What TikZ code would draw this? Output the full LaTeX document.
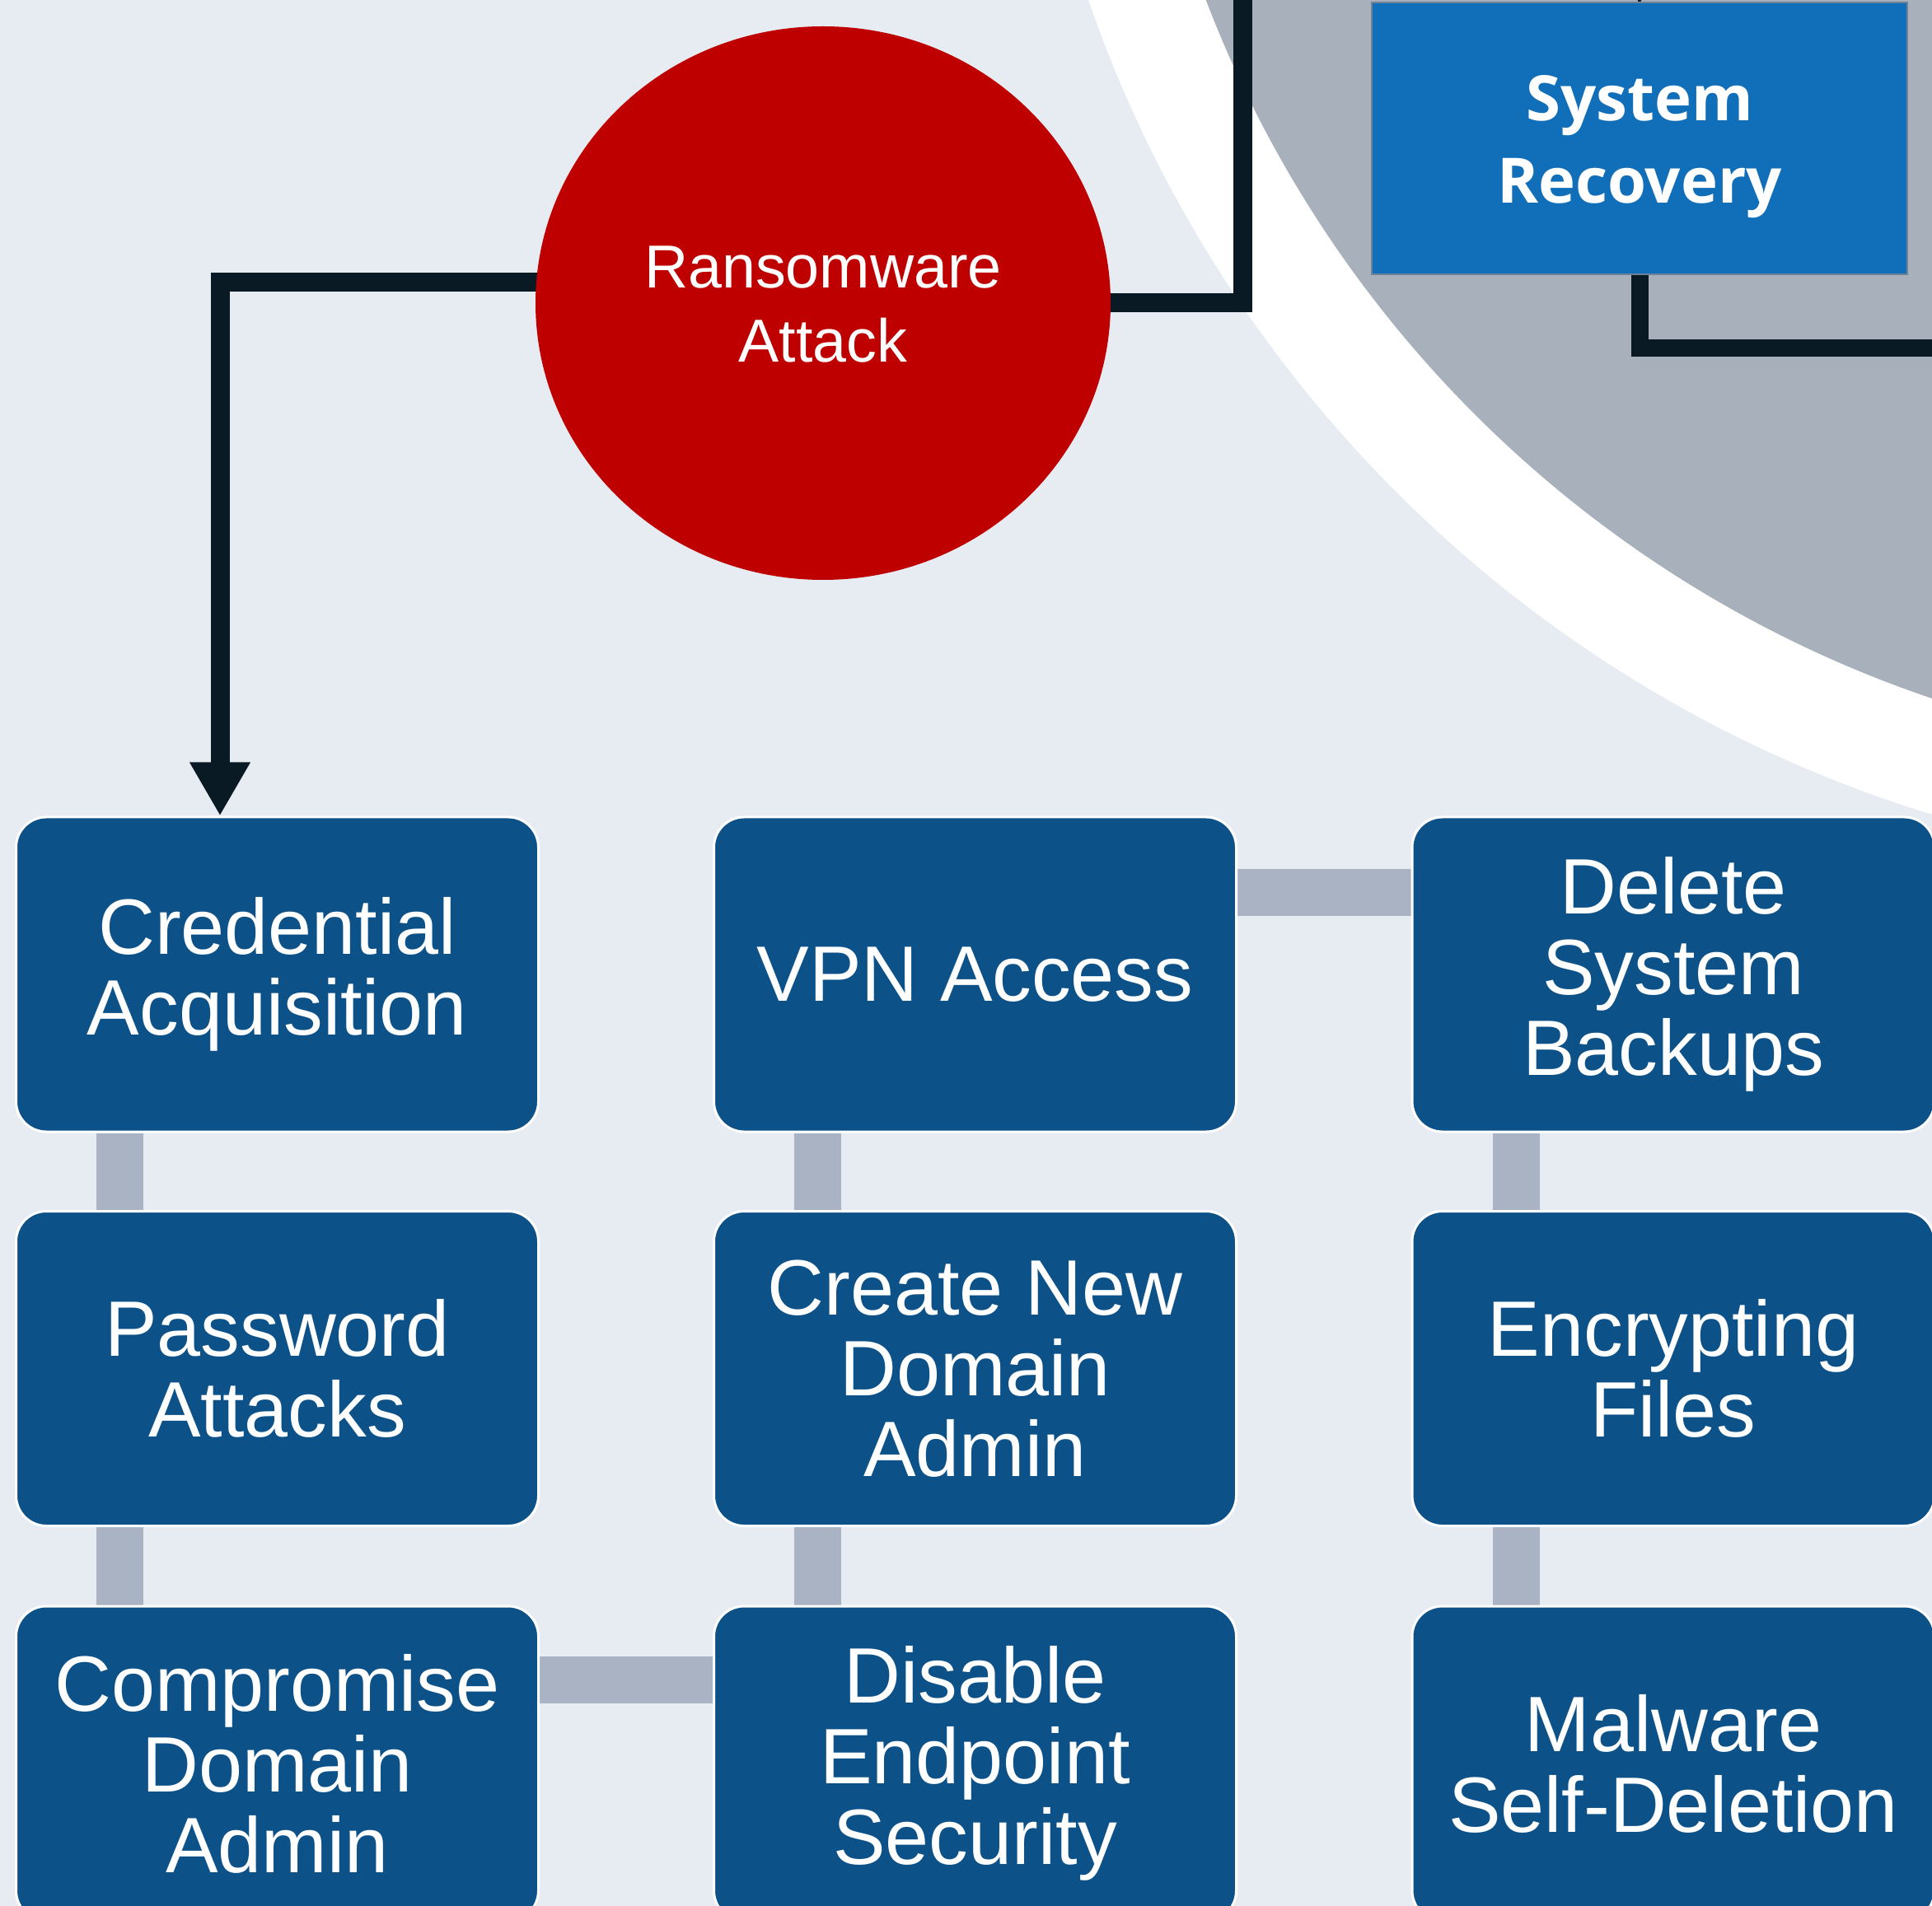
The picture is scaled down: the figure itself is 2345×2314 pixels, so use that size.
\documentclass[tikz,border=0pt]{standalone}
\usepackage{fontspec}
\setmainfont{Liberation Sans}
\newfontfamily\osans{Open Sans}
\usetikzlibrary{shapes.geometric,arrows.meta,calc}
\definecolor{bgc}{HTML}{E7ECF3}
\definecolor{greyc}{HTML}{A8B1BB}
\definecolor{boxblue}{HTML}{0D5189}
\definecolor{sysblue}{HTML}{116EB8}
\definecolor{sysedge}{HTML}{6F8195}
\definecolor{ransred}{HTML}{BF0000}
\definecolor{darkc}{HTML}{0A1A24}
\definecolor{barc}{HTML}{AAB3C4}
\pgfdeclarelayer{back}
\pgfdeclarelayer{conn}
\pgfsetlayers{back,conn,main}
\newcommand{\twolines}[2]{\raisebox{-2.7pt}[\height][\depth]{\begin{tabular}{@{}c@{}}#1\\#2\end{tabular}}}
\begin{document}
\begin{tikzpicture}[x=0.3pt,y=-0.3pt,
  stepbox/.style={rectangle, rounded corners=11pt, fill=boxblue, draw=white,
    line width=0.9pt, minimum width=190.2pt, minimum height=114.6pt,
    inner sep=0pt, text=white, align=center,
    font=\fontsize{28.6}{29.4}\selectfont},
  attack/.style={ellipse, fill=ransred, minimum width=209.4pt,
    minimum height=201.6pt, inner sep=0pt, text=white, align=center,
    font=\fontsize{22.1}{27}\selectfont},
  recbox/.style={rectangle, fill=sysblue, draw=sysedge, line width=0.4pt,
    minimum width=195pt, minimum height=99pt, inner sep=0pt, text=white,
    align=center, font=\osans\bfseries\fontsize{22.8}{30}\selectfont},
  darkline/.style={draw=darkc, line width=6.9pt, line join=miter},
  gbar/.style={draw=barc, line width=17.1pt},
  tip/.style={-{Triangle[length=19.5pt 0 0, width=20.7pt 0 0]}}
]
\useasboundingbox (0,0) rectangle (2345,2314);
\clip (0,0) rectangle (2345,2314);
\begin{pgfonlayer}{back}
  \fill[bgc] (0,0) rectangle (2345,2314);
  \fill[white] (2804,-511) circle[radius=470.4pt];
  \fill[greyc] (2804,-511) circle[radius=430.2pt];
\end{pgfonlayer}

% nodes
\node[attack] (ransom) at (999,368) {\twolines{Ransomware}{Attack}};
\node[recbox] (sysrec) at (1990,168) {\twolines{System}{Recovery}};

\node[stepbox] (cred) at (336.5,1183) {Credential\\Acquisition};
\node[stepbox] (vpn)  at (1183.5,1183) {VPN Access};
\node[stepbox] (del)  at (2031,1183) {Delete\\System\\Backups};

\node[stepbox] (pwd)  at (336.5,1661.5) {Password\\Attacks};
\node[stepbox] (cnda) at (1183.5,1661.5) {Create New\\Domain\\Admin};
\node[stepbox] (enc)  at (2031,1661.5) {Encrypting\\Files};

\node[stepbox] (comp) at (336.5,2141) {Compromise\\Domain\\Admin};
\node[stepbox] (dis)  at (1183.5,2141) {Disable\\Endpoint\\Security};
\node[stepbox] (mal)  at (2031,2141) {Malware\\Self-Deletion};

% free ends
\coordinate (topR) at (1508,-40);
\coordinate (rightR) at (2420,423);
\coordinate (topS) at (1990,-120);

\begin{pgfonlayer}{conn}
  % dark connectors
  \draw[darkline, tip] ($(ransom.center)+(-300,-25)$) -| ($(cred.north west)+(249,0)$);
  \draw[darkline] ($(ransom.center)+(300,0)$) -| (topR);
  \draw[darkline, line width=6.3pt] (sysrec.south) |- (rightR);
  \draw[darkline, tip] (topS) -- ($(sysrec.north)+(0,3)$);
  % grey bars
  \draw[gbar] ($(cred.south west)+(127.5,0)$) -- ($(pwd.north west)+(127.5,0)$);
  \draw[gbar] ($(pwd.south west)+(127.5,0)$) -- ($(comp.north west)+(127.5,0)$);
  \draw[gbar] ($(vpn.south west)+(127.5,0)$) -- ($(cnda.north west)+(127.5,0)$);
  \draw[gbar] ($(cnda.south west)+(127.5,0)$) -- ($(dis.north west)+(127.5,0)$);
  \draw[gbar] ($(del.south west)+(127.5,0)$) -- ($(enc.north west)+(127.5,0)$);
  \draw[gbar] ($(enc.south west)+(127.5,0)$) -- ($(mal.north west)+(127.5,0)$);
  \draw[gbar] ($(vpn.north east)+(0,93)$) -- ($(del.north west)+(0,93)$);
  \draw[gbar] ($(comp.north east)+(0,91)$) -- ($(dis.north west)+(0,91)$);
\end{pgfonlayer}
\end{tikzpicture}
\end{document}
